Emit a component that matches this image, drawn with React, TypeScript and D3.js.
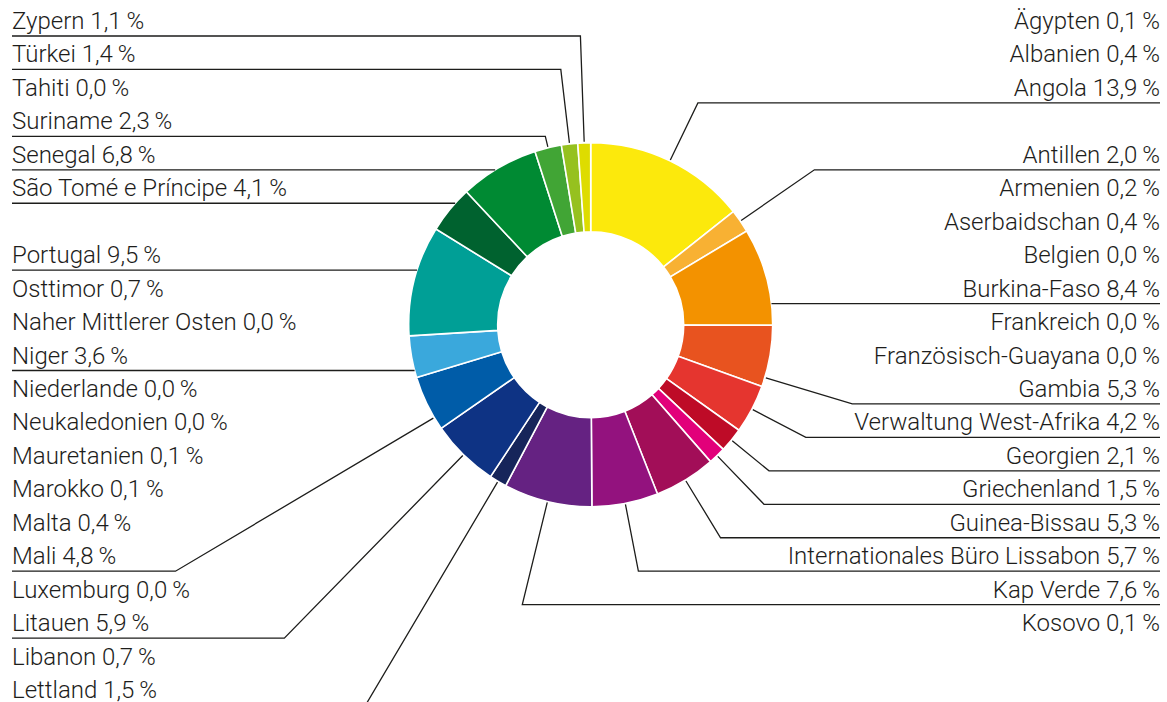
import React from "react";
import * as d3 from "d3";

// Shares in percent, right column top to bottom (pie runs clockwise from 12 o'clock)
const rightCountries = [
  "Ägypten", "Albanien", "Angola", "Antillen", "Armenien", "Aserbaidschan",
  "Belgien", "Burkina-Faso", "Frankreich", "Französisch-Guayana", "Gambia",
  "Verwaltung West-Afrika", "Georgien", "Griechenland", "Guinea-Bissau",
  "Internationales Büro Lissabon", "Kap Verde", "Kosovo",
];
const rightShares = [
  0.1, 0.4, 13.9, 2.0, 0.2, 0.4, 0.0, 8.4, 0.0, 0.0, 5.3, 4.2, 2.1, 1.5, 5.3,
  5.7, 7.6, 0.1,
];

// Left column top to bottom (pie continues from the bottom up)
const leftCountries = [
  "Zypern", "Türkei", "Tahiti", "Suriname", "Senegal", "São Tomé e Príncipe",
  "Portugal", "Osttimor", "Naher Mittlerer Osten", "Niger", "Niederlande",
  "Neukaledonien", "Mauretanien", "Marokko", "Malta", "Mali", "Luxemburg",
  "Litauen", "Libanon", "Lettland",
];
const leftShares = [
  1.1, 1.4, 0.0, 2.3, 6.8, 4.1, 9.5, 0.7, 0.0, 3.6, 0.0, 0.0, 0.1, 0.1, 0.4,
  4.8, 0.0, 5.9, 0.7, 1.5,
];

// shares below this are listed but not drawn as slices
const minSliceShare = 1;

const sliceColors: Record<string, string> = {
  Angola: "#fce90c",
  Antillen: "#f8b133",
  "Burkina-Faso": "#f39200",
  Gambia: "#e8531f",
  "Verwaltung West-Afrika": "#e5352f",
  Georgien: "#be0b27",
  Griechenland: "#e2007a",
  "Guinea-Bissau": "#a20e58",
  "Internationales Büro Lissabon": "#93127e",
  "Kap Verde": "#652282",
  Lettland: "#16255a",
  Litauen: "#0e3384",
  Mali: "#005ca8",
  Niger: "#3aa8dc",
  Portugal: "#009f96",
  "São Tomé e Príncipe": "#00622f",
  Senegal: "#008a33",
  Suriname: "#41a535",
  Türkei: "#96c11f",
  Zypern: "#dedc00",
};

const W = 1167;
const H = 702;
const cx = 590.7;
const cy = 324.7;
const R = 182;
const r0 = 93;
const rowStep = 33.45;
const firstBaseline = 29;
const underlineOffset = 7;
const leftX = 12;
const rightX = 1160;
const fontSize = 24;
const font = "Roboto, 'Liberation Sans', Arial, sans-serif";

const fmt = (v: number) => `${v.toFixed(1).replace(".", ",")}\u2009%`;

type Row = { name: string; share: number; side: "left" | "right"; row: number };

function buildRows(): Row[] {
  const rows: Row[] = [];
  let row = 0;
  rightCountries.forEach((name, i) => {
    rows.push({ name, share: rightShares[i], side: "right", row });
    row += name === "Angola" ? 2 : 1; // empty line after Angola
  });
  row = 0;
  leftCountries.forEach((name, i) => {
    rows.push({ name, share: leftShares[i], side: "left", row });
    row += name === "São Tomé e Príncipe" ? 2 : 1; // empty line after São Tomé
  });
  return rows;
}

const toXY = (a: number, rad: number): [number, number] => [
  cx + rad * Math.sin(a),
  cy - rad * Math.cos(a),
];

// anchor on the slice edge and elbow on the label's underline
function leader(a0: number, a1: number, uy: number, side: "left" | "right") {
  const dy = uy - cy;
  if (Math.abs(dy) < R) {
    const dx = Math.sqrt(R * R - dy * dy) * (side === "right" ? 1 : -1);
    let phi = Math.atan2(dx, -dy);
    if (phi < 0) phi += 2 * Math.PI;
    const eps = (0.5 * Math.PI) / 180;
    if (phi > a0 + eps && phi < a1 - eps) {
      const p: [number, number] = [cx + dx, uy];
      return { anchor: p, elbow: p };
    }
  }
  const mid = (a0 + a1) / 2;
  const m = Math.min((3 * Math.PI) / 180, 0.3 * (a1 - a0));
  const minSteep = Math.sin((17 * Math.PI) / 180);
  let best = { pen: Infinity, off: Infinity, anchor: [0, 0] as [number, number], elbow: [0, 0] as [number, number] };
  for (let k = 0; k <= 400; k++) {
    const t = a0 + m + ((a1 - a0 - 2 * m) * k) / 400;
    const anchor = toXY(t, R + 1);
    const dirx = Math.sin(t);
    const diry = -Math.cos(t);
    const len = (uy - anchor[1]) / diry;
    let pen = 0;
    if (!(len > 0) || (side === "right" ? dirx <= 0 : dirx >= 0)) pen += 1e6;
    pen += Math.max(0, minSteep - Math.abs(diry)) * 1000;
    pen += Math.max(0, len - 300);
    pen = Math.round(pen * 1000) / 1000;
    const off = Math.abs(t - mid);
    if (pen < best.pen || (pen === best.pen && off < best.off)) {
      best = { pen, off, anchor, elbow: [anchor[0] + dirx * len, uy] };
    }
  }
  return { anchor: best.anchor, elbow: best.elbow };
}

export default function App() {
  const rows = buildRows();
  const pieOrder = [
    ...rows.filter((d) => d.side === "right"),
    ...rows.filter((d) => d.side === "left").reverse(),
  ];
  const drawn = pieOrder.filter((d) => d.share >= minSliceShare);
  const arcs = d3.pie<Row>().sort(null).value((d) => d.share)(drawn);
  const arcGen = d3.arc<d3.PieArcDatum<Row>>().innerRadius(r0).outerRadius(R);

  return (
    <svg
      width={W}
      height={H}
      style={{ position: "absolute", left: 0, top: 0, display: "block", background: "#fff" }}
      fontFamily={font}
    >
      <g transform={`translate(${cx},${cy})`}>
        {arcs.map((a) => (
          <path
            key={a.data.name}
            d={arcGen(a) ?? ""}
            fill={sliceColors[a.data.name] ?? "#999"}
            stroke="#fff"
            strokeWidth={1.6}
          />
        ))}
      </g>
      {arcs.map((a) => {
        const uy = firstBaseline + underlineOffset + a.data.row * rowStep;
        const { anchor, elbow } = leader(a.startAngle, a.endAngle, uy, a.data.side);
        const endX = a.data.side === "right" ? rightX : leftX;
        const path = d3.path();
        path.moveTo(anchor[0], anchor[1]);
        path.lineTo(elbow[0], elbow[1]);
        path.lineTo(endX, uy);
        return (
          <path
            key={"l" + a.data.name}
            d={path.toString()}
            fill="none"
            stroke="#1d1d1b"
            strokeWidth={1.3}
          />
        );
      })}
      {rows.map((d) => (
        <text
          key={"t" + d.name}
          x={d.side === "right" ? rightX : leftX}
          y={firstBaseline + d.row * rowStep}
          textAnchor={d.side === "right" ? "end" : "start"}
          fontSize={fontSize}
          fontWeight={300}
          fill="#1d1d1b"
        >
          {`${d.name} ${fmt(d.share)}`}
        </text>
      ))}
    </svg>
  );
}
